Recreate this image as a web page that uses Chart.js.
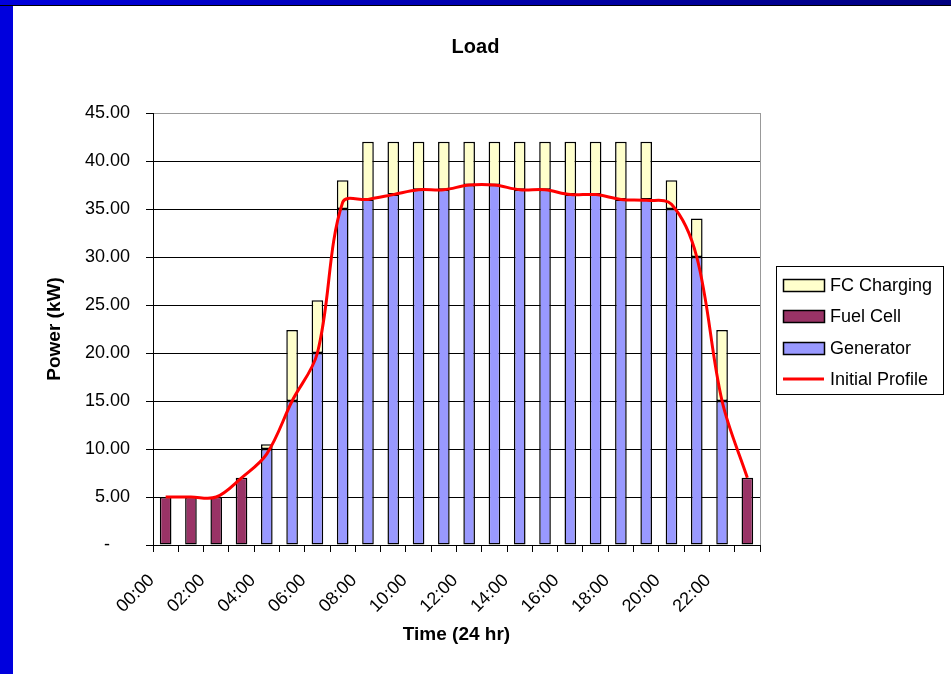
<!DOCTYPE html>
<html>
<head>
<meta charset="utf-8">
<script src="https://cdn.jsdelivr.net/npm/chart.js@4"></script>
<style>
body{margin:0;background:#fff;}
#wrap{position:relative;width:951px;height:674px;overflow:hidden;background:#fff;}
#chart{position:absolute;left:0;top:0;}
#leftBar{position:absolute;left:0;top:0;width:13px;height:674px;background:#0000dd;}
#topBar{position:absolute;left:0;top:0;width:951px;height:5px;background:linear-gradient(to right,#0000dd,#000080);border-bottom:1px solid #000;}
</style>
</head>
<body>
<div id="wrap">
	<canvas id="chart" width="951" height="674"></canvas>
	<div id="leftBar"></div>
	<div id="topBar"></div>
</div>
<script>
//------------------------------ Data ------------------------------//
const hours = ['00:00','01:00','02:00','03:00','04:00','05:00','06:00','07:00',
	'08:00','09:00','10:00','11:00','12:00','13:00','14:00','15:00',
	'16:00','17:00','18:00','19:00','20:00','21:00','22:00','23:00'];
const generator = [null,null,null,null,10,15,20,35,36,36.5,37,37,37.5,37.5,37,37,36.5,36.5,36,36,35,30,15,null];
const fuelCell = [5,5,5,7,null,null,null,null,null,null,null,null,null,null,null,null,null,null,null,null,null,null,null,7];
const fcCharging = [null,null,null,null,0.5,7.4,5.5,3,6,5.5,5,5,4.5,4.5,5,5,5.5,5.5,6,6,3,4,7.4,null];
const initialProfile = [5,5,5,7,9.5,15,20,35.7,36,36.5,37,37,37.5,37.5,37,37,36.5,36.5,36,35.9,35.5,30,15,7];
const legendOrder = ['FC Charging','Fuel Cell','Generator','Initial Profile'];
//------------------------------------------------------------------//

const FONT = '"Liberation Sans", Arial, sans-serif';

// plot area border (grey) + legend box
const frameAndLegend = {
	id: 'frameAndLegend',
	beforeDatasetsDraw(chart){
		const {ctx, chartArea} = chart;
		ctx.save();
		ctx.strokeStyle = '#999';
		ctx.lineWidth = 1;
		ctx.beginPath();
		ctx.moveTo(Math.round(chartArea.right) + 0.5, chartArea.top);
		ctx.lineTo(Math.round(chartArea.right) + 0.5, chartArea.bottom);
		ctx.stroke();
		ctx.restore();
	},
	afterDraw(chart){
		const ctx = chart.ctx;
		const bx = 776, by = 266, bw = 167, bh = 128;
		ctx.save();
		ctx.strokeStyle = '#000';
		ctx.lineWidth = 1;
		ctx.strokeRect(bx + 0.5, by + 0.5, bw, bh);
		ctx.font = '18px ' + FONT;
		ctx.textBaseline = 'middle';
		ctx.fillStyle = '#000';
		legendOrder.forEach((name, i) => {
			const ds = chart.data.datasets.find(d => d.label === name);
			const y = Math.round(by + 19 + i * 31.3);
			if(ds.type === 'line'){
				ctx.strokeStyle = ds.borderColor;
				ctx.lineWidth = 3;
				ctx.beginPath();
				ctx.moveTo(783, y);
				ctx.lineTo(824, y);
				ctx.stroke();
			}
			else{
				ctx.fillStyle = ds.backgroundColor;
				ctx.fillRect(783, y - 6, 41, 12);
				ctx.strokeStyle = '#000';
				ctx.lineWidth = 1.5;
				ctx.strokeRect(783.5, y - 5.5, 41, 12);
			}
			ctx.fillStyle = '#000';
			ctx.fillText(name, 830, y + 1);
		});
		ctx.restore();
	}
};

const barCommon = {
	type: 'bar',
	borderColor: '#000',
	borderWidth: 1.5,
	borderSkipped: false,
	barPercentage: 0.46,
	categoryPercentage: 1,
	order: 1,
};

new Chart(document.getElementById('chart'), {
	data: {
		labels: hours,
		datasets: [
			{...barCommon, label: 'Generator', data: generator, backgroundColor: '#9999ff'},
			{...barCommon, label: 'Fuel Cell', data: fuelCell, backgroundColor: '#993366'},
			{...barCommon, label: 'FC Charging', data: fcCharging, backgroundColor: '#ffffcc'},
			{type: 'line', label: 'Initial Profile', data: initialProfile, borderColor: '#ff0000',
				borderWidth: 3, pointRadius: 0, tension: 0.35, order: 0, fill: false}
		]
	},
	options: {
		responsive: false,
		animation: false,
		layout: {padding: 0},
		plugins: {
			legend: {display: false},
			tooltip: {enabled: false},
			title: {
				display: true,
				text: 'Load',
				color: '#000',
				font: {family: FONT, size: 20, weight: 'bold'},
				padding: {top: 35, bottom: 54}
			}
		},
		scales: {
			x: {
				stacked: true,
				grid: {offset: true, drawOnChartArea: false, tickLength: 7, color: '#000'},
				border: {color: '#000'},
				ticks: {
					autoSkip: false, maxRotation: 45, minRotation: 45,
					labelOffset: -14, padding: 18, color: '#000',
					font: {family: FONT, size: 18},
					callback: (v, i) => i % 2 === 0 ? hours[i] : ''
				},
				title: {display: true, text: 'Time (24 hr)', color: '#000',
					font: {family: FONT, size: 19, weight: 'bold'}, padding: {top: 0, bottom: 27.6}},
				afterFit: s => { s.height = 129; }
			},
			y: {
				stacked: true,
				min: 0, max: 45,
				grid: {color: c => c.tick && c.tick.value === 45 ? '#999' : '#000', tickColor: '#000', tickLength: 7},
				border: {color: '#000'},
				ticks: {
					stepSize: 5, padding: 16, color: '#000',
					font: {family: FONT, size: 18},
					callback: v => v === 0 ? '-    ' : v.toFixed(2)
				},
				title: {display: true, text: 'Power (kW)', color: '#000',
					font: {family: FONT, size: 19, weight: 'bold'}, padding: {top: 43.6, bottom: 0}},
				afterFit: s => { s.width = 153; }
			},
			yRight: {
				type: 'linear', axis: 'y', position: 'right', display: true,
				grid: {display: false}, ticks: {display: false}, border: {display: false},
				afterFit: s => { s.width = 191; }
			}
		}
	},
	plugins: [frameAndLegend]
});
</script>
</body>
</html>
